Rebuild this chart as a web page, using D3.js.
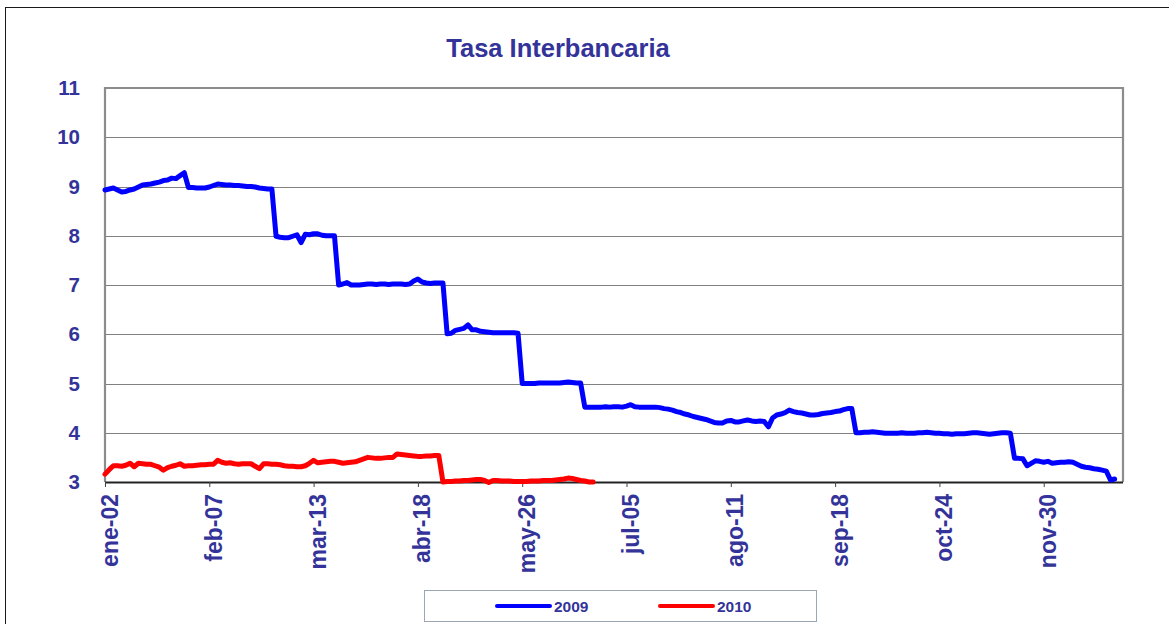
<!DOCTYPE html>
<html>
<head>
<meta charset="utf-8">
<script src="https://cdn.jsdelivr.net/npm/d3@7"></script>
<style>
  html, body { margin: 0; padding: 0; background: #fff; }
  svg { display: block; font-family: Arial, "Liberation Sans", sans-serif; }
</style>
</head>
<body>
<svg id="chart" width="1169" height="624"></svg>
<script>
// ---- data ----
const title = "Tasa Interbancaria";
const categoryCount = 245;           // trading days on the category axis
const tickEvery = 25;                 // a label every 25 categories
const tickLabels = ["ene-02", "feb-07", "mar-13", "abr-18", "may-26", "jul-05", "ago-11", "sep-18", "oct-24", "nov-30"];
const yTicks = [3, 4, 5, 6, 7, 8, 9, 10, 11];
const seriesNames = ["2009", "2010"];

const values2009 = [
  8.93, 8.95, 8.97, 8.93, 8.89, 8.90, 8.93, 8.95, 8.99, 9.03,
  9.04, 9.05, 9.07, 9.09, 9.12, 9.13, 9.17, 9.16, 9.22, 9.28,
  8.98, 8.98, 8.97, 8.97, 8.97, 8.99, 9.02, 9.05, 9.04, 9.03,
  9.03, 9.02, 9.02, 9.01, 9.00, 9.00, 8.99, 8.97, 8.96, 8.95,
  8.95, 7.99, 7.97, 7.96, 7.96, 7.99, 8.02, 7.86, 8.03, 8.02,
  8.04, 8.04, 8.01, 8.00, 8.00, 8.00, 7.00, 7.02, 7.05, 7.00,
  7.00, 7.00, 7.01, 7.02, 7.02, 7.01, 7.02, 7.02, 7.01, 7.02,
  7.02, 7.02, 7.01, 7.02, 7.08, 7.12, 7.06, 7.04, 7.03, 7.04,
  7.04, 7.04, 6.01, 6.02, 6.08, 6.10, 6.12, 6.19, 6.09, 6.09,
  6.06, 6.05, 6.04, 6.03, 6.03, 6.03, 6.03, 6.03, 6.03, 6.02,
  5.00, 5.00, 5.00, 5.00, 5.01, 5.01, 5.01, 5.01, 5.01, 5.01,
  5.02, 5.03, 5.02, 5.01, 5.01, 4.52, 4.52, 4.52, 4.52, 4.52,
  4.53, 4.52, 4.53, 4.53, 4.52, 4.54, 4.57, 4.53, 4.52, 4.52,
  4.52, 4.52, 4.52, 4.51, 4.49, 4.48, 4.46, 4.43, 4.41, 4.38,
  4.36, 4.33, 4.31, 4.29, 4.27, 4.24, 4.21, 4.20, 4.20, 4.24,
  4.25, 4.22, 4.22, 4.24, 4.26, 4.24, 4.23, 4.24, 4.23, 4.12,
  4.30, 4.36, 4.38, 4.41, 4.46, 4.43, 4.41, 4.40, 4.38, 4.36,
  4.36, 4.37, 4.39, 4.40, 4.41, 4.43, 4.44, 4.47, 4.49, 4.49,
  4.00, 4.00, 4.01, 4.01, 4.02, 4.01, 4.00, 3.99, 3.99, 3.99,
  3.99, 4.00, 3.99, 3.99, 3.99, 4.00, 4.00, 4.01, 4.00, 3.99,
  3.99, 3.98, 3.98, 3.97, 3.98, 3.98, 3.98, 3.99, 4.00, 4.00,
  3.99, 3.98, 3.97, 3.98, 3.99, 4.00, 4.00, 3.99, 3.48, 3.48,
  3.47, 3.33, 3.38, 3.43, 3.42, 3.40, 3.42, 3.38, 3.39, 3.40,
  3.40, 3.41, 3.40, 3.36, 3.32, 3.30, 3.29, 3.27, 3.26, 3.24,
  3.22, 3.04, 3.06
];

const values2010 = [
  3.16, 3.25, 3.33, 3.33, 3.32, 3.34, 3.38, 3.31, 3.38, 3.37,
  3.36, 3.36, 3.33, 3.30, 3.24, 3.29, 3.32, 3.34, 3.37, 3.32,
  3.33, 3.33, 3.34, 3.35, 3.35, 3.36, 3.36, 3.44, 3.40, 3.38,
  3.39, 3.37, 3.36, 3.37, 3.37, 3.37, 3.32, 3.27, 3.37, 3.37,
  3.36, 3.36, 3.35, 3.33, 3.32, 3.32, 3.31, 3.31, 3.33, 3.38,
  3.44, 3.39, 3.40, 3.41, 3.42, 3.42, 3.40, 3.38, 3.39, 3.40,
  3.41, 3.44, 3.47, 3.50, 3.49, 3.48, 3.48, 3.49, 3.50, 3.50,
  3.57, 3.56, 3.55, 3.54, 3.53, 3.52, 3.52, 3.53, 3.53, 3.54,
  3.54, 3.00, 3.01, 3.01, 3.02, 3.02, 3.03, 3.03, 3.04, 3.05,
  3.05, 3.03, 2.99, 3.03, 3.03, 3.02, 3.02, 3.02, 3.01, 3.01,
  3.01, 3.01, 3.02, 3.02, 3.02, 3.03, 3.03, 3.03, 3.04, 3.05,
  3.06, 3.08, 3.07, 3.05, 3.03, 3.02, 3.00, 3.00
];

// ---- layout ----
const W = 1169, H = 624;
const plot = { left: 105, right: 1123, top: 88, bottom: 482 };
const textColor = "#333399";
const colors = { "2009": "#0000FF", "2010": "#FF0000" };

const svg = d3.select("#chart");

// outer frame
svg.append("rect")
  .attr("x", 5.5).attr("y", 7.5)
  .attr("width", W + 20).attr("height", H + 20)
  .attr("fill", "#fff").attr("stroke", "#1a1a1a").attr("stroke-width", 1);

const x = d3.scaleLinear().domain([0, categoryCount - 1]).range([plot.left, plot.right]);
const y = d3.scaleLinear().domain([3, 11]).range([plot.bottom, plot.top]);

// gridlines
svg.append("g").selectAll("line")
  .data(yTicks.filter(t => t > 3 && t < 11))
  .join("line")
  .attr("x1", plot.left).attr("x2", plot.right)
  .attr("y1", d => Math.round(y(d)) + 0.5).attr("y2", d => Math.round(y(d)) + 0.5)
  .attr("stroke", "#808080").attr("stroke-width", 1);

// plot frame (top, left, right)
svg.append("path")
  .attr("d", `M${plot.left},${plot.bottom} V${plot.top} H${plot.right} V${plot.bottom}`)
  .attr("fill", "none").attr("stroke", "#8c8c8c").attr("stroke-width", 2.2);

// y axis labels
const yAxis = d3.axisLeft(y).tickValues(yTicks).tickSize(0).tickPadding(25).tickFormat(d3.format("d"));
const gy = svg.append("g").attr("transform", `translate(${plot.left},0)`).call(yAxis);
gy.select(".domain").remove();
gy.selectAll("text")
  .attr("fill", textColor).attr("font-size", 20.5).attr("font-weight", "bold")
  .attr("font-family", "Arial, 'Liberation Sans', sans-serif");

// x axis
const tickIdx = tickLabels.map((_, i) => i * tickEvery);
const xAxis = d3.axisBottom(x).tickValues(tickIdx).tickSize(5)
  .tickFormat((d, i) => tickLabels[i]);
const gx = svg.append("g").attr("transform", `translate(0,${plot.bottom})`).call(xAxis);
gx.select(".domain").attr("stroke", "#222").attr("stroke-width", 2)
  .attr("d", `M${plot.left},0.5H${plot.right}`);
gx.selectAll(".tick line").attr("stroke", "#444").attr("stroke-width", 1);
gx.selectAll(".tick text")
  .attr("fill", textColor).attr("font-size", 23).attr("font-weight", "bold")
  .attr("font-family", "Arial, 'Liberation Sans', sans-serif")
  .attr("text-anchor", "end")
  .attr("transform", "translate(12,12) rotate(-90)")
  .attr("x", 0).attr("y", 0).attr("dy", 0);

// lines
const line = d3.line().x((d, i) => x(i)).y(d => y(d));
const series = [
  { name: "2009", values: values2009 },
  { name: "2010", values: values2010 }
];
svg.append("g").selectAll("path")
  .data(series)
  .join("path")
  .attr("d", d => line(d.values))
  .attr("fill", "none")
  .attr("stroke", d => colors[d.name])
  .attr("stroke-width", 5)
  .attr("stroke-linejoin", "round")
  .attr("stroke-linecap", "round");

// title
svg.append("text")
  .attr("x", 558).attr("y", 57)
  .attr("text-anchor", "middle")
  .attr("fill", textColor).attr("font-size", 25.5).attr("font-weight", "bold")
  .text(title);

// legend
const legend = svg.append("g");
legend.append("rect")
  .attr("x", 424.5).attr("y", 590.5).attr("width", 392).attr("height", 31)
  .attr("fill", "#fff").attr("stroke", "#9aa6b6").attr("stroke-width", 1);
const legX = d3.scalePoint().domain(seriesNames).range([497, 660]);
const items = legend.selectAll("g.item").data(seriesNames).join("g")
  .attr("class", "item")
  .attr("transform", d => `translate(${legX(d)},606)`);
items.append("line")
  .attr("x1", 0).attr("x2", 53).attr("y1", 0).attr("y2", 0)
  .attr("stroke", d => colors[d]).attr("stroke-width", 4).attr("stroke-linecap", "round");
items.append("text")
  .attr("x", 57).attr("y", 5.5)
  .attr("fill", textColor).attr("font-size", 15.5).attr("font-weight", "bold")
  .text(d => d);
</script>
</body>
</html>
